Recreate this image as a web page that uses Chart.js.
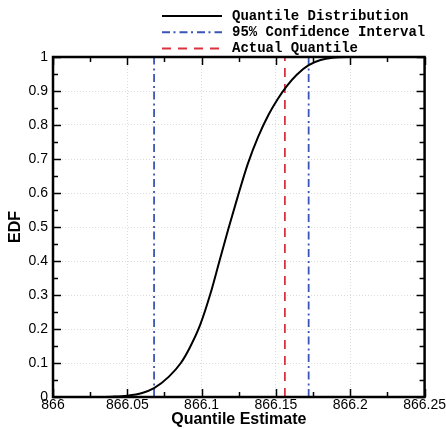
<!DOCTYPE html>
<html>
<head>
<meta charset="utf-8">
<script src="https://cdn.jsdelivr.net/npm/chart.js@4.4.0/dist/chart.umd.min.js"></script>
<style>
  html, body { margin: 0; padding: 0; background: #fff; }
  #wrap { width: 446px; height: 429px; position: relative; }
</style>
</head>
<body>
<div id="wrap"><canvas id="edfChart" width="446" height="429"></canvas></div>
<script>
// Datos
const quantileX = [866.000, 866.030, 866.040, 866.050, 866.060, 866.068, 866.078, 866.086, 866.092,
                   866.099, 866.106, 866.112, 866.118, 866.124, 866.131, 866.138, 866.145, 866.151,
                   866.157, 866.164, 866.172, 866.180, 866.188, 866.198, 866.250];
const edfValues = [0, 0, 0.001, 0.004, 0.012, 0.026, 0.060, 0.100, 0.145,
                   0.212, 0.305, 0.400, 0.495, 0.585, 0.685, 0.765, 0.830, 0.875,
                   0.913, 0.948, 0.976, 0.991, 0.998, 1, 1];
const ciLower = 866.068;
const ciUpper = 866.172;
const actualQuantile = 866.156;
const xTicks = [866, 866.05, 866.1, 866.15, 866.2, 866.25];
const yTicks = [0, 0.1, 0.2, 0.3, 0.4, 0.5, 0.6, 0.7, 0.8, 0.9, 1];
const legendLabels = ['Quantile Distribution', '95% Confidence Interval', 'Actual Quantile'];

const BLUE = '#3a55b4';
const RED = '#d9323c';
const DASH_DOT = [8, 3.5, 2, 4];
const DASH = [9, 7];

const curve = quantileX.map((x, i) => ({ x: x, y: edfValues[i] }));
const vline = (x) => [{ x: x, y: 0 }, { x: x, y: 1 }];

/**
 * Ticks hacia dentro en los cuatro lados (mayores y menores)
 */
const inwardTicks = {
    id: 'inwardTicks',
    afterDatasetsDraw(chart) {
        const { ctx, chartArea: a, scales: { x, y } } = chart;
        ctx.save();
        ctx.strokeStyle = '#000';
        ctx.lineWidth = 1.5;
        ctx.beginPath();
        for (let k = 0; k <= 10; k++) {
            const px = Math.round(x.getPixelForValue(866 + k * 0.025)) + 0.5;
            const len = k % 2 === 0 ? 8 : 5;
            ctx.moveTo(px, a.bottom); ctx.lineTo(px, a.bottom - len);
            ctx.moveTo(px, a.top); ctx.lineTo(px, a.top + len);
        }
        for (let k = 0; k <= 20; k++) {
            const py = Math.round(y.getPixelForValue(k * 0.05)) + 0.5;
            const len = k % 2 === 0 ? 8 : 5;
            ctx.moveTo(a.left, py); ctx.lineTo(a.left + len, py);
            ctx.moveTo(a.right, py); ctx.lineTo(a.right - len, py);
        }
        ctx.stroke();
        ctx.lineWidth = 2.5;
        ctx.strokeRect(a.left, a.top, a.right - a.left, a.bottom - a.top);
        ctx.restore();
    }
};

/**
 * Leyenda arriba a la derecha
 */
const topLegend = {
    id: 'topLegend',
    afterDraw(chart) {
        const ctx = chart.ctx;
        const styles = [
            { color: '#000', dash: [] },
            { color: BLUE, dash: DASH_DOT },
            { color: RED, dash: DASH }
        ];
        ctx.save();
        ctx.font = 'bold 14px "Liberation Mono", "Courier New", monospace';
        ctx.textBaseline = 'middle';
        ctx.fillStyle = '#000';
        legendLabels.forEach((label, i) => {
            const yy = 16 + i * 16.3;
            ctx.strokeStyle = styles[i].color;
            ctx.lineWidth = 2;
            ctx.setLineDash(styles[i].dash);
            ctx.beginPath();
            ctx.moveTo(162, yy);
            ctx.lineTo(222, yy);
            ctx.stroke();
            ctx.setLineDash([]);
            ctx.fillText(label, 232, yy);
        });
        ctx.restore();
    }
};

const fmt = (v) => String(parseFloat((Math.round(v * 1000) / 1000).toFixed(3)));

new Chart(document.getElementById('edfChart'), {
    type: 'scatter',
    data: {
        datasets: [
            {
                label: legendLabels[0],
                data: curve,
                showLine: true,
                borderColor: '#000',
                borderWidth: 2,
                pointRadius: 0,
                cubicInterpolationMode: 'monotone'
            },
            {
                label: legendLabels[1],
                data: vline(ciLower),
                showLine: true,
                borderColor: BLUE,
                borderWidth: 1.8,
                borderDash: DASH_DOT,
                pointRadius: 0
            },
            {
                label: legendLabels[1],
                data: vline(ciUpper),
                showLine: true,
                borderColor: BLUE,
                borderWidth: 1.8,
                borderDash: DASH_DOT,
                pointRadius: 0
            },
            {
                label: legendLabels[2],
                data: vline(actualQuantile),
                showLine: true,
                borderColor: RED,
                borderWidth: 1.8,
                borderDash: DASH,
                pointRadius: 0
            }
        ]
    },
    options: {
        responsive: false,
        animation: false,
        events: [],
        layout: { padding: { top: 57, right: 18, left: 0, bottom: 0 } },
        plugins: {
            legend: { display: false },
            tooltip: { enabled: false }
        },
        scales: {
            x: {
                type: 'linear',
                min: 866,
                max: 866.25,
                afterBuildTicks: (s) => { s.ticks = xTicks.map(v => ({ value: v })); },
                afterFit: (s) => { s.height = 32; },
                grid: {
                    color: 'rgba(0,0,0,0.2)',
                    lineWidth: 0.7,
                    drawTicks: false
                },
                border: { display: false, dash: [1, 2] },
                ticks: {
                    color: '#000',
                    padding: 0,
                    maxRotation: 0,
                    autoSkip: false,
                    font: { family: '"Liberation Sans", Arial, sans-serif', size: 14 },
                    callback: (v) => fmt(v)
                },
                title: {
                    display: true,
                    text: 'Quantile Estimate',
                    color: '#000',
                    padding: { top: -3, bottom: 0 },
                    font: { family: '"Liberation Sans", Arial, sans-serif', size: 16, weight: 'bold' }
                }
            },
            y: {
                type: 'linear',
                min: 0,
                max: 1,
                afterBuildTicks: (s) => { s.ticks = yTicks.map(v => ({ value: v })); },
                afterFit: (s) => { s.width = 53; },
                grid: {
                    color: 'rgba(0,0,0,0.2)',
                    lineWidth: 0.7,
                    drawTicks: false
                },
                border: { display: false, dash: [1, 2] },
                ticks: {
                    color: '#000',
                    padding: 5,
                    autoSkip: false,
                    font: { family: '"Liberation Sans", Arial, sans-serif', size: 14 },
                    callback: (v) => fmt(v)
                },
                title: {
                    display: true,
                    text: 'EDF',
                    color: '#000',
                    padding: { top: 6, bottom: 0 },
                    font: { family: '"Liberation Sans", Arial, sans-serif', size: 16, weight: 'bold' }
                }
            }
        }
    },
    plugins: [inwardTicks, topLegend]
});
</script>
</body>
</html>
